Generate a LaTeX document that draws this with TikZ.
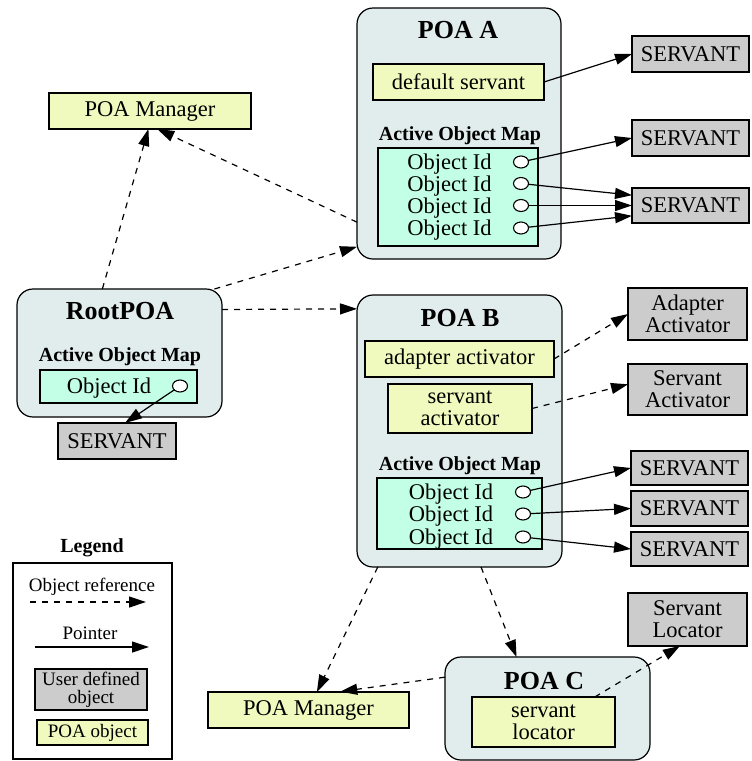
\documentclass[tikz,border=0pt]{standalone}
\usepackage{fontspec}
\setmainfont{Liberation Serif}
\usetikzlibrary{arrows.meta,shapes.geometric}
\definecolor{poabg}{RGB}{225,236,237}
\definecolor{aombg}{RGB}{195,255,230}
\definecolor{poaobj}{RGB}{240,250,190}
\definecolor{userobj}{RGB}{204,204,204}
\tikzset{
  every node/.style={inner sep=0pt, outer sep=0pt},
  container/.style={draw=black, line width=1.2pt, fill=poabg, rounded corners=16pt},
  aombox/.style={draw=black, line width=1.2pt, fill=aombg},
  poabox/.style={draw=black, line width=1.2pt, fill=poaobj, font=\fontsize{22.5}{22}\selectfont, align=center},
  userbox/.style={draw=black, line width=1.2pt, fill=userobj, font=\fontsize{22.5}{22}\selectfont, align=center},
  lgpoabox/.style={draw=black, line width=1.2pt, fill=poaobj, font=\fontsize{19}{18}\selectfont, align=center},
  lguserbox/.style={draw=black, line width=1.2pt, fill=userobj, font=\fontsize{19}{18}\selectfont, align=center},
  titletext/.style={font=\bfseries\fontsize{26}{27}\selectfont},
  aomlabel/.style={font=\bfseries\fontsize{20}{22}\selectfont},
  oidtext/.style={font=\fontsize{22.5}{22}\selectfont},
  lgtext/.style={font=\fontsize{19}{20}\selectfont},
  handle/.style={draw=black, line width=1.1pt, fill=white, ellipse, minimum width=15pt, minimum height=12pt},
  objref/.style={line width=1.2pt, dash pattern=on 6pt off 6pt, -{Triangle[length=17pt,width=11pt]}},
  pointer/.style={line width=1.2pt, -{Triangle[length=17pt,width=11pt]}},
}
\begin{document}
\begin{tikzpicture}[x=1pt,y=-1pt]
\useasboundingbox[fill=white] (0,0) rectangle (752,761);

% ---------------- POA A ----------------
\node[container, minimum width=204pt, minimum height=251pt] (poaA) at (459,133.5) {};
\node[titletext] (poaAt) at (458,30) {POA A};
\node[poabox, minimum width=171pt, minimum height=36pt] (defserv) at (458.5,82) {default servant};
\node[aomlabel] (aomAl) at (460,136) {Active Object Map};
\node[aombox, minimum width=160pt, minimum height=98pt] (aomA) at (458,197) {};
\node[oidtext] (oA1) at (449.5,164) {Object Id};
\node[oidtext] (oA2) at (449.5,186) {Object Id};
\node[oidtext] (oA3) at (449.5,208) {Object Id};
\node[oidtext] (oA4) at (449.5,230) {Object Id};
\node[handle] (cA1) at (521,162) {};
\node[handle] (cA2) at (521,183.5) {};
\node[handle] (cA3) at (521,205.5) {};
\node[handle] (cA4) at (521,228) {};
\node[userbox, minimum width=117pt, minimum height=36pt] (srvA1) at (690.5,54) {SERVANT};
\node[userbox, minimum width=117pt, minimum height=36pt] (srvA2) at (690.5,138) {SERVANT};
\node[userbox, minimum width=117pt, minimum height=35pt] (srvA3) at (690.5,205.5) {SERVANT};

% ---------------- RootPOA ----------------
\node[container, minimum width=205pt, minimum height=128pt] (root) at (119.5,353) {};
\node[titletext] (roott) at (120,311) {RootPOA};
\node[aomlabel] (aomRl) at (120,357) {Active Object Map};
\node[aombox, minimum width=157pt, minimum height=33pt] (aomR) at (118.5,386.5) {};
\node[oidtext] (oR1) at (109,388) {Object Id};
\node[handle] (cR1) at (180,386) {};
\node[userbox, minimum width=118pt, minimum height=36pt] (srvR) at (117,441) {SERVANT};

% ---------------- POA Manager (top) ----------------
\node[poabox, minimum width=202pt, minimum height=36pt] (pmTop) at (150,111) {POA Manager};

% ---------------- POA B ----------------
\node[container, minimum width=205pt, minimum height=272pt] (poaB) at (459.5,431) {};
\node[titletext] (poaBt) at (460,318) {POA B};
\node[poabox, minimum width=189pt, minimum height=36pt] (adact) at (459.5,359) {adapter activator};
\node[poabox, minimum width=144pt, minimum height=49pt] (servact) at (460,408.5) {servant\\activator};
\node[aomlabel] (aomBl) at (460,466) {Active Object Map};
\node[aombox, minimum width=165pt, minimum height=71pt] (aomB) at (459.5,513.5) {};
\node[oidtext] (oB1) at (451,494) {Object Id};
\node[oidtext] (oB2) at (451,516) {Object Id};
\node[oidtext] (oB3) at (451,539) {Object Id};
\node[handle] (cB1) at (523,492) {};
\node[handle] (cB2) at (523,514) {};
\node[handle] (cB3) at (523,537) {};
\node[userbox, minimum width=119pt, minimum height=52pt] (AA) at (687.5,314) {Adapter\\Activator};
\node[userbox, minimum width=119pt, minimum height=51pt] (SA) at (687.5,389.5) {Servant\\Activator};
\node[userbox, minimum width=117pt, minimum height=34pt] (srvB1) at (689.5,468) {SERVANT};
\node[userbox, minimum width=117pt, minimum height=35pt] (srvB2) at (689.5,508.5) {SERVANT};
\node[userbox, minimum width=117pt, minimum height=34pt] (srvB3) at (689.5,549) {SERVANT};

% ---------------- POA C / bottom ----------------
\node[poabox, minimum width=201pt, minimum height=36pt] (pmBot) at (308.5,710) {POA Manager};
\node[container, minimum width=205pt, minimum height=103pt] (poaC) at (547.5,708.5) {};
\node[titletext] (poaCt) at (544,681) {POA C};
\node[poabox, minimum width=143pt, minimum height=50pt] (slbox) at (543.5,722) {servant\\locator};
\node[userbox, minimum width=119pt, minimum height=53pt] (SL) at (687.5,619.5) {Servant\\Locator};

% ---------------- Legend ----------------
\node[aomlabel] (lgt) at (92,548) {Legend};
\node[draw=black, line width=1.2pt, fill=white, minimum width=159pt, minimum height=196pt] (lgbox) at (92.5,661) {};
\node[lgtext] (lgref) at (92,587) {Object reference};
\coordinate (lgrefs) at (30,602);
\coordinate (lgrefe) at (146,602);
\node[lgtext] (lgptr) at (90,633) {Pointer};
\coordinate (lgptrs) at (35,647);
\coordinate (lgptre) at (149,647);
\node[lguserbox, minimum width=112pt, minimum height=41pt] (lguser) at (91,689.5) {User defined\\object};
\node[lgpoabox, minimum width=111pt, minimum height=25pt] (lgpoa) at (92.5,732.5) {POA object};
\draw[objref] (lgrefs) -- (lgrefe);
\draw[pointer] (lgptrs) -- (lgptre);

% ---------------- Pointers ----------------
\draw[pointer] (defserv.east) -- (srvA1.west);
\draw[pointer] (cA1) -- (srvA2.west);
\draw[pointer] (cA2) -- (srvA3.170);
\draw[pointer] (cA3) -- (srvA3.west);
\draw[pointer] (cA4) -- (srvA3.190);
\draw[pointer] (cR1) -- (srvR.66);
\draw[pointer] (cB1) -- (srvB1.west);
\draw[pointer] (cB2) -- (srvB2.west);
\draw[pointer] (cB3) -- (srvB3.west);

% ---------------- Object references ----------------
\draw[objref] (root.105) -- (pmTop.265);
\draw[objref] (poaA.221) -- (pmTop.292);
\draw[objref] (root.34) -- (poaA.228);
\draw[objref] (root.23) -- (poaB.130);
\draw[objref] (adact.east) -- (AA.west);
\draw[objref] (servact.east) -- (SA.175);
\draw[objref] (poaB.239) -- (pmBot.65);
\draw[objref] (poaB.279) -- (poaC.121);
\draw[objref, shorten >=3pt] (poaC.163) -- (pmBot.32);
\draw[objref] (slbox.26) -- (SL.254);
\end{tikzpicture}
\end{document}
